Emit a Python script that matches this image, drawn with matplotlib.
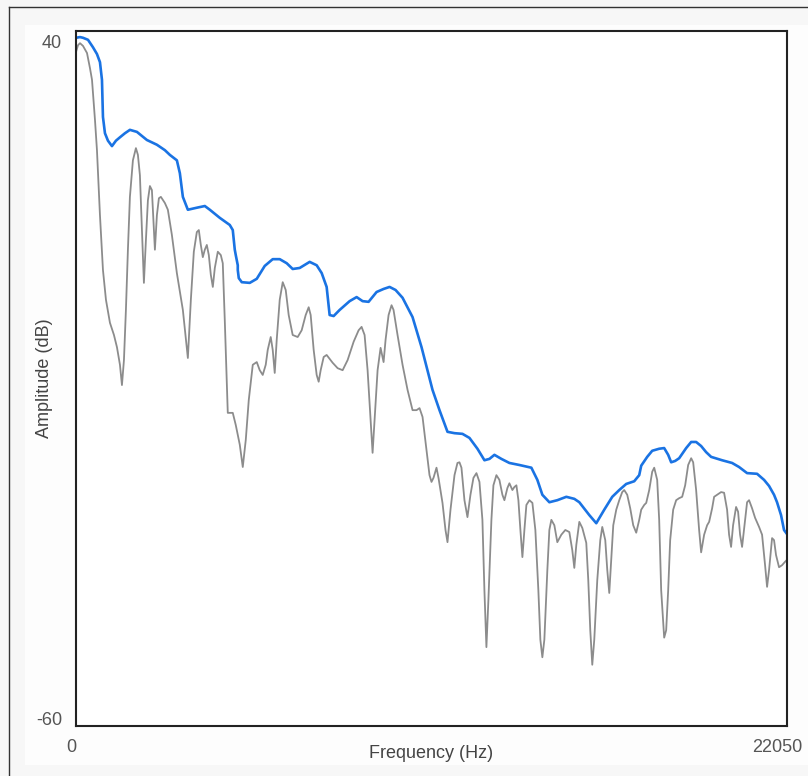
import matplotlib
matplotlib.use("Agg")
from matplotlib import pyplot as plt
from matplotlib.lines import Line2D
from matplotlib.patches import Rectangle
from matplotlib.transforms import ScaledTranslation

plt.rcParams['font.family'] = ['Liberation Sans', 'DejaVu Sans']

# spectrum (gray)
spec_freq = [0, 62, 124, 217, 341, 434, 496, 588, 650, 743, 836, 929, 1053, 1177, 1270,
             1363, 1425, 1487, 1548, 1610, 1672, 1765, 1858, 1920, 1982, 2044, 2106, 2168,
             2230, 2292, 2354, 2416, 2447, 2509, 2571, 2632, 2756, 2849, 2973, 3128, 3314,
             3469, 3562, 3654, 3747, 3809, 3871, 3933, 3995, 4057, 4119, 4181, 4243, 4305,
             4398, 4491, 4552, 4614, 4707, 4862, 4955, 5079, 5172, 5265, 5358, 5482, 5606,
             5698, 5791, 5884, 5946, 6039, 6101, 6163, 6225, 6318, 6411, 6504, 6596, 6720,
             6875, 6999, 7123, 7216, 7278, 7371, 7464, 7526, 7588, 7681, 7773, 7959, 8114,
             8269, 8424, 8610, 8765, 8857, 8950, 9043, 9136, 9198, 9260, 9353, 9446, 9539,
             9601, 9694, 9786, 9848, 9972, 10127, 10282, 10437, 10561, 10654, 10747, 10871,
             10963, 11025, 11087, 11180, 11242, 11304, 11366, 11459, 11521, 11614, 11738,
             11830, 11892, 11954, 12047, 12140, 12233, 12326, 12419, 12512, 12604, 12666,
             12728, 12790, 12883, 12945, 13038, 13131, 13224, 13286, 13379, 13441, 13534,
             13596, 13658, 13720, 13782, 13844, 13906, 13968, 14061, 14154, 14246, 14339,
             14401, 14463, 14525, 14618, 14680, 14742, 14835, 14927, 15051, 15175, 15299,
             15392, 15454, 15516, 15609, 15702, 15825, 15887, 15949, 16011, 16073, 16166,
             16259, 16321, 16414, 16476, 16538, 16600, 16662, 16755, 16848, 16940, 17002,
             17095, 17188, 17281, 17374, 17467, 17529, 17622, 17684, 17777, 17870, 17932,
             18024, 18086, 18148, 18241, 18303, 18365, 18427, 18520, 18613, 18706, 18799,
             18892, 18985, 19078, 19140, 19232, 19325, 19387, 19480, 19573, 19635, 19728,
             19790, 19913, 20006, 20099, 20192, 20254, 20316, 20378, 20471, 20533, 20595,
             20657, 20750, 20812, 20874, 20967, 21060, 21184, 21277, 21370, 21432, 21494,
             21587, 21648, 21710, 21803, 21896, 21989, 22050]
spec_db = [38.4, 39.4, 39.7, 39.3, 38.25, 36.0, 34.3, 28.4, 23.9, 14.3, 6.2, 1.8, -1.6, -3.4, -5.2,
           -7.8, -10.8, -7.1, 0.3, 9.2, 17.0, 22.4, 24.2, 23.2, 20.2, 12.1, 4.3, 10.6,
           16.5, 18.6, 18.0, 12.1, 9.2, 14.3, 16.8, 17.0, 16.1, 15.1, 11.4, 5.75, 0.3,
           -6.8, 1.8, 8.9, 11.8, 12.1, 9.9, 8.1, 9.2, 9.9, 8.4, 5.5, 3.7, 6.5,
           8.9, 8.4, 7.2, -1.2, -14.9, -14.9, -16.7, -19.6, -22.9, -18.9, -13.0, -7.8, -7.4,
           -8.6, -9.3, -7.8, -5.6, -3.7, -5.6, -9.0, -4.1, 1.8, 4.4, 3.25, -0.45, -3.4,
           -3.7, -2.7, -0.45, 0.7, -0.45, -5.6, -9.3, -10.3, -8.6, -6.65, -6.35, -7.5, -8.3,
           -8.6, -7.1, -4.4, -2.7, -2.2, -3.4, -8.6, -16.0, -20.8, -16.0, -8.6, -5.3, -7.4,
           -4.1, -0.45, 1.0, 0.3, -3.4, -7.8, -11.5, -14.5, -14.5, -14.2, -15.5, -20.4,
           -24.1, -25.1, -24.5, -23.0, -24.5, -26.3, -28.2, -32.2, -34.0, -29.2, -24.1,
           -22.3, -22.2, -23.0, -27.8, -30.3, -27.0, -24.5, -23.8, -25.1, -30.7, -41.1,
           -49.5, -42.5, -30.7, -25.6, -24.1, -24.8, -27.0, -27.8, -26.0, -25.3, -26.3,
           -25.85, -25.6, -27.8, -32.2, -36.2, -32.2, -28.5, -27.8, -28.2, -32.2, -41.1,
           -48.4, -51.0, -48.4, -38.1, -32.2, -30.7, -31.5, -34.0, -32.9, -32.2, -32.5,
           -35.2, -37.8, -34.4, -31.0, -31.9, -34.1, -39.6, -47.0, -52.1, -48.4, -39.6,
           -33.7, -31.75, -33.7, -38.1, -41.5, -36.6, -31.5, -29.2, -27.8, -26.6, -26.3,
           -27.0, -29.0, -31.5, -32.6, -30.7, -29.2, -28.5, -28.2, -26.3, -23.6, -23.0,
           -24.8, -30.7, -41.1, -48.1, -47.0, -41.1, -33.7, -29.2, -27.8, -27.5, -27.3,
           -25.6, -22.6, -21.6, -22.2, -26.3, -32.2, -35.5, -32.9, -31.5, -31.0, -29.0,
           -27.3, -26.9, -26.6, -26.7, -29.2, -32.9, -34.7, -31.5, -28.8, -29.5, -32.9,
           -34.7, -30.7, -28.1, -27.8, -29.0, -30.4, -31.75, -32.9, -37.4, -40.6, -38.1,
           -33.4, -33.7, -35.9, -37.7, -37.4, -36.9, -36.6]

# envelope (blue)
env_freq = [0, 124, 217, 372, 526, 650, 743, 805, 836, 898, 991, 1115, 1239, 1363, 1518,
            1672, 1889, 2044, 2199, 2509, 2756, 2911, 3128, 3221, 3314, 3469, 3747, 3995,
            4150, 4460, 4769, 4862, 4924, 4955, 5017, 5017, 5048, 5141, 5389, 5606, 5853,
            6101, 6318, 6535, 6720, 6937, 7247, 7464, 7619, 7773, 7866, 7990, 8176, 8486,
            8703, 8888, 9074, 9322, 9539, 9725, 9910, 10127, 10437, 10716, 11056, 11273,
            11521, 11738, 11985, 12202, 12450, 12667, 12822, 12976, 13193, 13441, 13751,
            14122, 14308, 14463, 14680, 14927, 15206, 15454, 15609, 15919, 16135, 16383,
            16631, 16848, 17064, 17312, 17467, 17529, 17715, 17870, 18086, 18241, 18365,
            18458, 18582, 18706, 18923, 19078, 19232, 19387, 19542, 19697, 20038, 20347,
            20564, 20812, 21122, 21339, 21494, 21648, 21741, 21865, 21958, 22050]
env_db = [40.5, 40.6, 40.5, 40.2, 39.1, 38.1, 36.9, 34.3, 28.8, 26.4, 25.3, 24.5, 25.3, 25.8, 26.4,
          26.9, 26.6, 26.0, 25.4, 24.7, 23.9, 23.2, 22.4, 20.5, 17.0, 15.1, 15.4, 15.65,
          15.1, 13.9, 12.85, 12.1, 9.2, 8.4, 6.9, 6.2, 5.0, 4.4, 4.3, 4.9, 6.8,
          7.8, 7.8, 7.2, 6.35, 6.5, 7.4, 6.9, 5.75, 3.7, -0.45, -0.6, 0.3, 1.6,
          2.2, 1.6, 1.5, 2.95, 3.4, 3.7, 3.25, 2.1, -0.75, -5.2, -11.5, -14.5,
          -17.7, -17.9, -18.0, -18.6, -20.2, -21.9, -21.7, -21.1, -21.7, -22.3, -22.6,
          -23.0, -24.8, -27.0, -28.1, -27.8, -27.3, -27.6, -28.1, -30.0, -31.2, -29.2,
          -27.3, -26.3, -25.4, -25.0, -24.1, -22.7, -21.4, -20.5, -20.2, -20.1, -21.1,
          -22.2, -22.0, -21.6, -20.1, -19.2, -19.2, -19.8, -20.7, -21.4, -21.9, -22.3,
          -22.9, -23.8, -23.9, -24.8, -25.7, -27.0, -28.1, -30.0, -32.2, -32.8]

x_ticks = [0, 22050]
y_ticks = [40, -60]

fig = plt.figure(figsize=(8.08, 7.76), dpi=100, facecolor='#f7f7f7')
W, H = 808, 776

# screenshot style panel + frame
fig.add_artist(Rectangle((25 / W, 1 - 765 / H), 1, (765 - 25) / H,
                         transform=fig.transFigure, facecolor='#fdfdfd', edgecolor='none', zorder=0))
fig.add_artist(Line2D([9 / W, 9 / W], [0, 1 - 7 / H], transform=fig.transFigure, color='#333333', lw=1.0))
fig.add_artist(Line2D([9 / W, 1], [1 - 7 / H, 1 - 7 / H], transform=fig.transFigure, color='#333333', lw=1.0))

ax = fig.add_axes([76 / W, 1 - 726 / H, (787 - 76) / W, (726 - 31) / H])
ax.plot(spec_freq, spec_db, color='#808080', lw=1.3, alpha=0.9, solid_joinstyle='round')
ax.plot(env_freq, env_db, color='#1a73e3', lw=1.9, solid_joinstyle='round')

ax.set_xlim(0, 22050)
ax.set_ylim(-61.15, 41.5)
ax.set_xticks(x_ticks)
ax.set_xticklabels([str(v) for v in x_ticks])
ax.set_yticks(y_ticks)
ax.set_yticklabels([str(v) for v in y_ticks])
ax.tick_params(length=0, labelsize=13, labelcolor='#555555')
ax.tick_params(axis='x', pad=9)
ax.tick_params(axis='y', pad=10)

labels = ax.get_xticklabels()
labels[0].set_transform(labels[0].get_transform() + ScaledTranslation(-5 / 100, 0, fig.dpi_scale_trans))
labels[1].set_transform(labels[1].get_transform() + ScaledTranslation(-10 / 100, 0, fig.dpi_scale_trans))

ax.set_xlabel("Frequency (Hz)", fontsize=13, color='#444444')
ax.set_ylabel("Amplitude (dB)", fontsize=13, color='#444444')
ax.xaxis.set_label_coords(0.5, -0.027)
ax.yaxis.set_label_coords(-0.032, 0.5)

for s in ax.spines.values():
    s.set_color('#222222')
    s.set_linewidth(1.5)

plt.savefig('out.png', dpi=100, facecolor=fig.get_facecolor())
